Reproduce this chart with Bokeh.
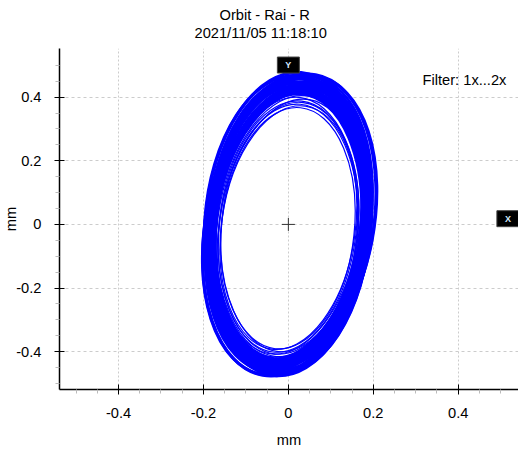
from bokeh.plotting import figure
from bokeh.models import Range1d, FixedTicker, Label, Title, ColumnDataSource
from bokeh.embed import file_html
from bokeh.resources import INLINE

# ---------------- data ----------------
title_line1 = "Orbit - Rai - R"
title_line2 = "2021/11/05 11:18:10"
x_label = "mm"
y_label = "mm"
filter_text = "Filter: 1x...2x"

tick_values = [-0.4, -0.2, 0, 0.2, 0.4]
tick_labels = ["-0.4", "-0.2", "0", "0.2", "0.4"]
minor_values = [-0.5, -0.45, -0.35, -0.3, -0.25, -0.15, -0.1, -0.05,
                0.05, 0.1, 0.15, 0.25, 0.3, 0.35, 0.45, 0.5]

# outer (dense) orbit revolutions
orbit_outer_x = [0.002, -0.001, 0.003, 0.000, -0.002, 0.001, 0.002, -0.001, 0.000, 0.003, 0.000,
                 -0.002, 0.001, 0.000, 0.002, -0.001, 0.001, 0.000, 0.002, -0.001, 0.001, 0.000]
orbit_outer_y = [-0.002, 0.001, -0.003, 0.000, -0.001, 0.002, -0.002, 0.000, 0.001, -0.002, -0.003,
                 0.000, -0.001, -0.003, -0.004, -0.002, -0.005, -0.003, -0.006, -0.004, -0.005, -0.006]
orbit_outer_w = [0.3948, 0.3901, 0.3948, 0.3854, 0.3901, 0.3807, 0.3854, 0.3760, 0.3760, 0.3713, 0.3713,
                 0.3666, 0.3643, 0.3619, 0.3596, 0.3572, 0.3525, 0.3502, 0.3478, 0.3455, 0.3431, 0.3408]
orbit_outer_h = [0.9592, 0.9561, 0.9530, 0.9467, 0.9404, 0.9373, 0.9310, 0.9248, 0.9185, 0.9122, 0.9060,
                 0.8997, 0.8934, 0.8871, 0.8809, 0.8746, 0.8683, 0.8621, 0.8558, 0.8495, 0.8433, 0.8370]
orbit_outer_ang = [-10, -5, -11, -7, -4, -10, -6, -9, -4, -11, -7,
                   -5, -10, -8, -4, -9, -6, -8, -5, -9, -7, -6]

# inner (sparse) orbit revolutions
orbit_inner_x = [0.001, -0.002, 0.002, 0.000, -0.001, 0.002, 0.000, -0.001]
orbit_inner_y = [-0.006, -0.008, -0.007, -0.010, -0.009, -0.011, -0.010, -0.012]
orbit_inner_w = [0.3361, 0.3337, 0.3290, 0.3267, 0.3220, 0.3196, 0.3149, 0.3126]
orbit_inner_h = [0.8276, 0.8182, 0.8088, 0.7994, 0.7900, 0.7806, 0.7712, 0.7618]
orbit_inner_ang = [-8, -5, -9, -6, -7, -5, -8, -6]

center_x = [0]
center_y = [0]

# ---------------- plot ----------------
FONT = "Liberation Sans"
FS = "11pt"

p = figure(width=518, height=450,
           x_range=Range1d(-0.539, 0.542), y_range=Range1d(-0.519, 0.553),
           output_backend="svg", toolbar_location=None,
           min_border_left=58, min_border_right=0, min_border_top=48,
           min_border_bottom=60)
p.outline_line_color = None
p.background_fill_color = "white"
p.border_fill_color = "white"

p.title.text = title_line1
p.title.align = "left"
p.title.offset = 160
p.title.vertical_align = "bottom"
p.title.text_font = FONT
p.title.text_font_size = FS
p.title.text_font_style = "normal"
p.title.text_color = "black"
p.title.standoff = -8
p.add_layout(Title(text=title_line2, align="left", offset=135, vertical_align="top",
                   text_font=FONT, text_font_size=FS, text_font_style="normal",
                   text_color="black", standoff=12), "above")

for ax in (p.xaxis[0], p.yaxis[0]):
    ax.ticker = FixedTicker(ticks=tick_values, minor_ticks=minor_values)
    ax.major_label_overrides = {v: s for v, s in zip(tick_values, tick_labels)}
    ax.major_label_text_font = FONT
    ax.major_label_text_font_size = FS
    ax.major_label_text_color = "black"
    ax.major_label_text_line_height = 1.0
    ax.axis_label_text_font = FONT
    ax.axis_label_text_font_size = FS
    ax.axis_label_text_font_style = "normal"
    ax.axis_label_text_color = "black"
    ax.axis_label_text_line_height = 1.0
    ax.axis_line_color = "black"
    ax.axis_line_width = 1.5
    ax.major_tick_line_color = "black"
    ax.major_tick_in = 5
    ax.major_tick_out = 5
    ax.minor_tick_line_color = "#bbbbbb"
    ax.minor_tick_in = 0
    ax.minor_tick_out = 4

p.xaxis.axis_label = x_label
p.yaxis.axis_label = y_label
p.xaxis.major_label_standoff = 13
p.xaxis.axis_label_standoff = 11
p.yaxis.major_label_standoff = 13
p.yaxis.axis_label_standoff = -6

p.xgrid.ticker = FixedTicker(ticks=tick_values)
p.ygrid.ticker = FixedTicker(ticks=tick_values)
p.xgrid.grid_line_color = "#cccccc"
p.ygrid.grid_line_color = "#cccccc"
p.xgrid.grid_line_dash = "2 2"
p.ygrid.grid_line_dash = "3 3"

src_outer = ColumnDataSource(dict(x=orbit_outer_x, y=orbit_outer_y, w=orbit_outer_w,
                                  h=orbit_outer_h, a=orbit_outer_ang))
src_inner = ColumnDataSource(dict(x=orbit_inner_x, y=orbit_inner_y, w=orbit_inner_w,
                                  h=orbit_inner_h, a=orbit_inner_ang))
p.ellipse(x="x", y="y", width="w", height="h", angle="a", angle_units="deg",
          source=src_outer, fill_color=None, line_color="#0000ff", line_width=3)
p.ellipse(x="x", y="y", width="w", height="h", angle="a", angle_units="deg",
          source=src_inner, fill_color=None, line_color="#0000ff", line_width=1.2)

p.scatter(center_x, center_y, marker="cross", size=13, line_color="#333333",
          line_width=1)

p.add_layout(Label(x=0.5135, y=0.4525, text=filter_text, text_align="right",
                   text_baseline="middle", text_font=FONT, text_font_size=FS,
                   text_color="black"))

for lx, ly, lt in ((0.0, 0.501, "Y"), (0.517, 0.018, "X")):
    p.add_layout(Label(x=lx, y=ly, text=lt, text_align="center",
                       text_baseline="middle", text_font=FONT,
                       text_font_size="9px", text_font_style="bold",
                       text_color="#d6ebff", background_fill_color="black",
                       border_line_color="#444444", padding=(8, 3)))

open("out.html", "w").write(file_html(p, INLINE))
